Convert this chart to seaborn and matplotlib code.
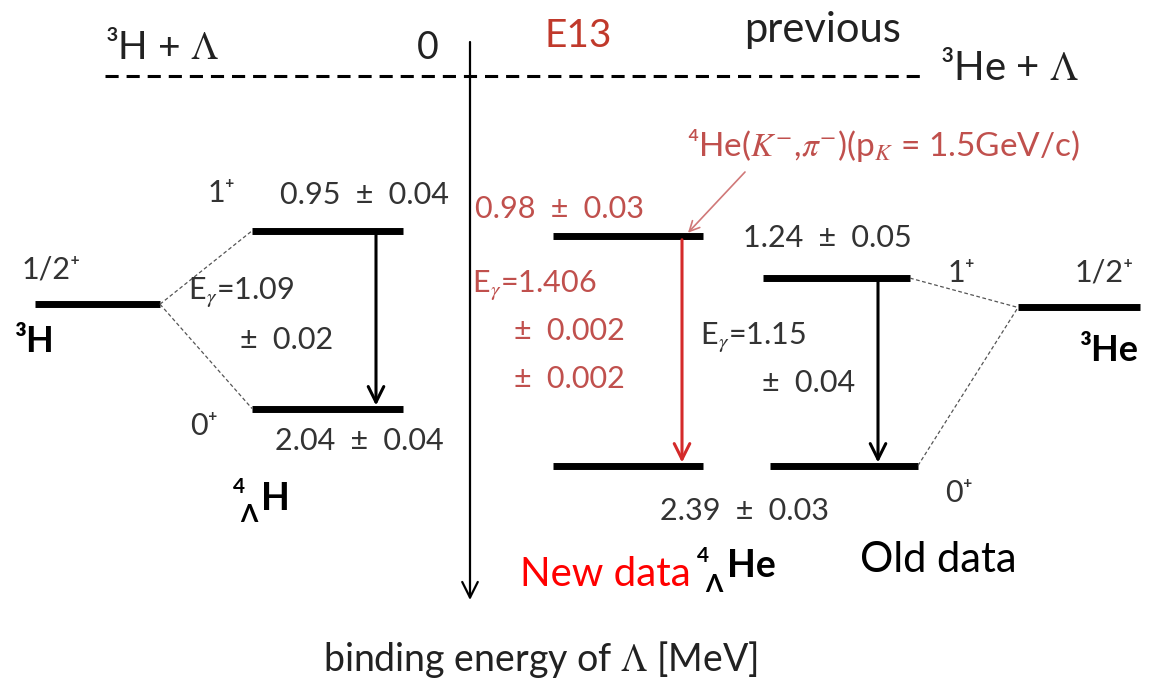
import numpy as np
import pandas as pd
import matplotlib
matplotlib.use("Agg")
import matplotlib.pyplot as plt
import seaborn as sns

# ---------------- data ----------------
threshold_E = 0.0                      # 3H+Λ / 3He+Λ threshold [MeV]
hyp_H_spins = ["1⁺", "0⁺"]
hyp_H_E = [0.95, 2.04]                 # 4ΛH binding energies
hyp_H_err = [0.04, 0.04]
he_new_E = [0.98, 2.39]                # 4ΛHe (E13, new)
he_new_err = [0.03, 0.03]
he_old_E = [1.24, 2.39]                # 4ΛHe (previous, old)
he_old_err = [0.05, 0.03]
core_names = ["³H", "³He"]
core_E = [1.40, 1.42]                  # schematic core positions
gamma_H = [1.09, 0.02]
gamma_new = [1.406, 0.002, 0.002]
gamma_old = [1.15, 0.04]

# ---------------- layout ----------------
W, H = 1153, 681
Y0, K = 76.0, 163.0                     # pixel row of E=0 and px per MeV
SP = "\u2002"


def ypx(e):
    return Y0 + K * e


def E(p):
    return (p - Y0) / K


sns.set_theme(style="white")
plt.rcParams["font.family"] = ["Lato", "DejaVu Sans"]
plt.rcParams["mathtext.fontset"] = "stix"

fig = plt.figure(figsize=(W / 100, H / 100), dpi=100)
ax = fig.add_axes([0, 0, 1, 1])

spans = {
    "3H": (35, 160), "H": (252, 403), "new": (553, 703),
    "old1": (763, 910), "old0": (770, 918), "3He": (1018, 1140),
}
levels = [
    ("3H", spans["3H"], core_E[0]),
    ("H1", spans["H"], hyp_H_E[0]),
    ("H0", spans["H"], hyp_H_E[1]),
    ("N1", spans["new"], he_new_E[0]),
    ("N0", spans["new"], he_new_E[1]),
    ("O1", spans["old1"], he_old_E[0]),
    ("O0", spans["old0"], he_old_E[1]),
    ("3He", spans["3He"], core_E[1]),
]
rows = []
for name, (x0, x1), e in levels:
    rows.append({"level": name, "x": x0, "E": e})
    rows.append({"level": name, "x": x1, "E": e})
df = pd.DataFrame(rows)
sns.lineplot(data=df, x="x", y="E", units="level", estimator=None, sort=False,
             color="black", lw=5, legend=False, ax=ax, solid_capstyle="butt")

# threshold dashed line
thr = pd.DataFrame({"x": [105, 925], "E": [threshold_E, threshold_E]})
sns.lineplot(data=thr, x="x", y="E", color="black", lw=2.2, ax=ax,
             legend=False).lines[-1].set_dashes((4.3, 2.6))

# connecting dotted lines
dot = dict(color="#555555", lw=0.9, ls=(0, (3, 2)))
ax.plot([spans["3H"][1], spans["H"][0]], [core_E[0], hyp_H_E[0]], **dot)
ax.plot([spans["3H"][1], spans["H"][0]], [core_E[0], hyp_H_E[1]], **dot)
ax.plot([spans["old1"][1], spans["3He"][0]], [he_old_E[0], core_E[1]], **dot)
ax.plot([spans["old0"][1], spans["3He"][0]], [he_old_E[1], core_E[1]], **dot)


# gamma transition arrows
def arrow(x, e0, e1, color, lw=2.2):
    ax.annotate("", xy=(x, e1), xytext=(x, e0),
                arrowprops=dict(arrowstyle="->", lw=lw, color=color,
                                mutation_scale=28, shrinkA=0, shrinkB=0))


d4, d3 = E(4) - E(0), E(3) - E(0)
arrow(376, hyp_H_E[0] + d4, hyp_H_E[1] - d3, "black")
arrow(682, he_new_E[0] + d4, he_new_E[1] - d3, "#D42A2A")
arrow(878, he_old_E[0] + d4, he_old_E[1] - d3, "black")

# vertical energy axis
ax.annotate("", xy=(470, E(600)), xytext=(470, E(42)),
            arrowprops=dict(arrowstyle="->", lw=1.6, color="black",
                            mutation_scale=28, shrinkA=0, shrinkB=0))

# pink reaction arrow
ax.annotate("", xy=(688, he_new_E[0] - d3), xytext=(745, E(172)),
            arrowprops=dict(arrowstyle="->", lw=1.2, color="#D07878",
                            mutation_scale=18, shrinkA=0, shrinkB=0))

GRAY = "#333333"
RED = "#C0504D"


def t(x, yp, s, size=22, color=GRAY, ha="left", weight="normal"):
    ax.text(x, E(yp), s, fontsize=size, color=color, ha=ha, va="center",
            fontweight=weight)


def pm(v, err):
    return f"{v:.2f}{SP}±{SP}{err:.2f}"


# top labels
t(105, 48, "³H + $\\Lambda$", size=28, color="#222222")
t(417, 48, "0", size=27, color="#222222")
t(545, 36, "E13", size=28, color="#C0392B")
t(823, 30, "previous", size=30, color="#222222", ha="center")
t(940, 68, "³He + $\\Lambda$", size=29, color="#222222")
t(1080, 145, "⁴He($K^{-}$,$\\pi^{-}$)(p$_K$ = 1.5GeV/c)", size=24, color=RED,
  ha="right")

# 4ΛH side
yH1, yH0 = ypx(hyp_H_E[0]), ypx(hyp_H_E[1])
t(208, yH1 - 38, hyp_H_spins[0], size=22)
t(280, yH1 - 36, pm(hyp_H_E[0], hyp_H_err[0]))
t(190, yH0 + 17, hyp_H_spins[1], size=22)
t(275, yH0 + 32, pm(hyp_H_E[1], hyp_H_err[1]))
midH = (yH1 + yH0) / 2
t(188, midH - 27, f"E$_\\gamma$={gamma_H[0]:.2f}")
t(240, midH + 20, f"±{SP}{gamma_H[1]:.2f}")
t(233, yH0 + 78, "4", size=15, color="black", weight="bold")
t(240, yH0 + 106, "Λ", size=18, color="black", weight="bold")
t(261, yH0 + 90, "H", size=27, color="black", weight="bold")

# 3H core
y3H = ypx(core_E[0])
t(22, y3H - 35, "1/2⁺", size=22)
t(15, y3H + 37, core_names[0], size=26, color="black", weight="bold")

# new 4ΛHe
yN1, yN0 = ypx(he_new_E[0]), ypx(he_new_E[1])
t(475, yN1 - 27, pm(he_new_E[0], he_new_err[0]), color=RED)
midN = (yN1 + yN0) / 2
t(472, midN - 65, f"E$_\\gamma$={gamma_new[0]:.3f}", color=RED)
t(514, midN - 20, f"±{SP}{gamma_new[1]:.3f}", color=RED)
t(514, midN + 28, f"±{SP}{gamma_new[2]:.3f}", color=RED)
t(660, yN0 + 45, pm(he_new_E[1], he_new_err[1]))

# old 4ΛHe
yO1, yO0 = ypx(he_old_E[0]), ypx(he_old_E[1])
t(743, yO1 - 40, pm(he_old_E[0], he_old_err[0]))
t(948, yO1 - 5, "1⁺", size=22)
t(945, yO0 + 27, "0⁺", size=22)
midO = (yO1 + yO0) / 2
t(700, midO - 34, f"E$_\\gamma$={gamma_old[0]:.2f}")
t(762, midO + 11, f"±{SP}{gamma_old[1]:.2f}")

# 3He core
y3He = ypx(core_E[1])
t(1075, y3He - 35, "1/2⁺", size=22)
t(1080, y3He + 43, core_names[1], size=26, color="black", weight="bold")

# bottom labels
t(520, 574, "New data", size=29, color="#FF0000")
t(697, 556, "4", size=15, color="black", weight="bold")
t(705, 585, "Λ", size=18, color="black", weight="bold")
t(727, 566, "He", size=27, color="black", weight="bold")
t(860, 560, "Old data", size=30, color="black")
t(541, 660, "binding energy of $\\Lambda$ [MeV]", size=27, color="#222222",
  ha="center")

ax.set_xlim(0, W)
ax.set_ylim(E(H), E(0))
ax.axis("off")
fig.savefig("out.png", dpi=100, facecolor="white")
